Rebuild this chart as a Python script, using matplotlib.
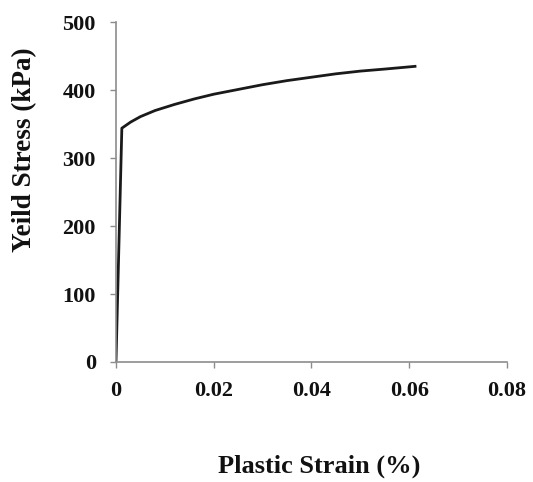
import matplotlib
matplotlib.use("Agg")
import matplotlib.pyplot as plt

# plastic strain vs yield stress
strain = [0.0, 0.0012, 0.003, 0.005, 0.008, 0.012, 0.016, 0.020, 0.025,
          0.030, 0.035, 0.040, 0.045, 0.050, 0.055, 0.0612]
stress = [0, 344, 353, 361, 370, 379, 387, 394, 401,
          408, 414, 419, 424, 428, 431, 435]

xticks = [0, 0.02, 0.04, 0.06, 0.08]
xticklabels = ["0", "0.02", "0.04", "0.06", "0.08"]
yticks = [0, 100, 200, 300, 400, 500]

plt.rcParams["font.family"] = ["Liberation Serif", "DejaVu Serif"]
plt.rcParams["font.weight"] = "bold"

fig = plt.figure(figsize=(5.33, 4.82), dpi=100)
ax = fig.add_axes([0.2176, 0.249, 0.7334, 0.705])

ax.plot(strain, stress, color="#1a1a1a", linewidth=2.0)

ax.set_xlim(0, 0.08)
ax.set_ylim(0, 500)
ax.set_xticks(xticks)
ax.set_xticklabels(xticklabels)
ax.set_yticks(yticks)

for s in ["top", "right"]:
    ax.spines[s].set_visible(False)
for s in ["left", "bottom"]:
    ax.spines[s].set_color("#8c8c8c")
    ax.spines[s].set_linewidth(1.2)

ax.tick_params(axis="both", direction="out", length=4.5, width=1.0,
               color="#8c8c8c", labelsize=16, labelcolor="#111111")
ax.tick_params(axis="y", pad=10)
ax.tick_params(axis="x", pad=9)
for lab in ax.get_xticklabels() + ax.get_yticklabels():
    lab.set_fontweight("bold")

ax.set_xlabel("Plastic Strain (%)", fontsize=19, fontweight="bold", color="#111111")
ax.set_ylabel("Yeild Stress (kPa)", fontsize=19.5, fontweight="bold", color="#111111")
ax.xaxis.set_label_coords(0.52, -0.272)
ax.yaxis.set_label_coords(-0.202, 0.624)

fig.savefig("out.png", dpi=100)
